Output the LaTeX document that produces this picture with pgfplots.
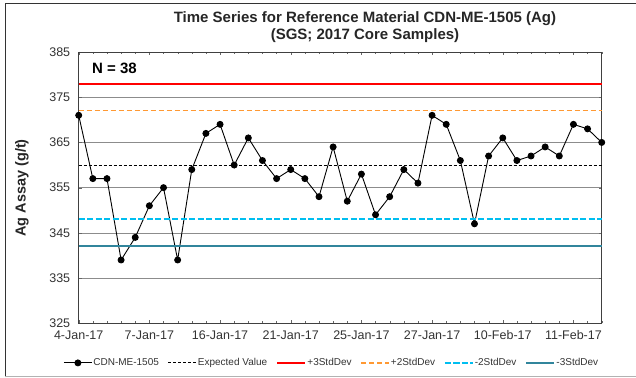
\documentclass[border=0pt]{standalone}
\usepackage{fontspec}
\setmainfont{Liberation Sans}
\usepackage{pgfplots}
\pgfplotsset{compat=1.18}

\definecolor{sdred}{HTML}{FF0000}
\definecolor{sdorange}{HTML}{FF9933}
\definecolor{sdcyan}{RGB}{0,190,240}
\definecolor{sdteal}{HTML}{31859C}
\definecolor{gridgray}{HTML}{8C8C8C}
\definecolor{textgray}{HTML}{333333}

% Ag assay values, CDN-ME-1505, in order of analysis
\pgfplotstableread{
idx value
0 371
1 357
2 357
3 339
4 344
5 351
6 355
7 339
8 359
9 367
10 369
11 360
12 366
13 361
14 357
15 359
16 357
17 353
18 364
19 352
20 358
21 349
22 353
23 359
24 356
25 371
26 369
27 361
28 347
29 362
30 366
31 361
32 362
33 364
34 362
35 369
36 368
37 365
}\agdata

\begin{document}
\begin{tikzpicture}[x=1pt,y=1pt]
\useasboundingbox (0,0) rectangle (636,377);
% chart frame
\draw[line width=1pt, black!80] (5,0) -- (5,373) -- (636,373);
\draw[line width=0.8pt, black!30] (5,1) -- (636,1);

\begin{axis}[
  at={(78.7pt,53.7pt)}, anchor=south west,
  scale only axis, width=523pt, height=271.3pt,
  xmin=0, xmax=37, ymin=325, ymax=385,
  axis line style={line width=0.9pt, black!75},
  ytick={325,335,...,385},
  ymajorgrids, grid style={line width=0.7pt, gridgray},
  xtick={0,5,...,35},
  xticklabels={4-Jan-17,7-Jan-17,16-Jan-17,21-Jan-17,25-Jan-17,27-Jan-17,10-Feb-17,11-Feb-17},
  minor xtick={0,1,...,37},
  xtick style={black!60}, ytick style={black!60},
  major tick length=3pt, minor tick length=2pt,
  y tick label style={/pgf/number format/assume math mode=true, xshift=-5pt},
  x tick label style={yshift=-4pt},
  tick label style={font=\fontsize{12.5}{14}\selectfont, text=textgray},
  legend columns=6,
  legend style={at={(0.483,-0.146)}, anchor=center, draw=none, fill=none,
    font=\fontsize{10}{12}\selectfont, text=textgray,
    nodes={inner sep=1pt},
    /tikz/every even column/.append style={column sep=8pt}},
  legend image code/.code={\draw[mark repeat=2,mark phase=2,#1] plot coordinates {(0pt,0pt) (14pt,0pt) (28pt,0pt)};},
  clip=false,
]
\addplot[black, line width=0.9pt, mark=*, mark size=3pt] table[x=idx, y=value] {\agdata};
\addlegendentry{CDN-ME-1505}
\addplot[black, line width=1pt, dash pattern=on 3pt off 2pt] coordinates {(0,360) (37,360)};
\addlegendentry{Expected Value}
\addplot[sdred, line width=2.2pt] coordinates {(0,378) (37,378)};
\addlegendentry{+3StdDev}
\addplot[sdorange, line width=1.3pt, dash pattern=on 5pt off 3pt] coordinates {(0,372) (37,372)};
\addlegendentry{+2StdDev}
\addplot[draw=sdcyan, line width=1.7pt, dash pattern=on 6pt off 2.5pt] coordinates {(0,348) (37,348)};
\addlegendentry{-2StdDev}
\addplot[sdteal, line width=2pt] coordinates {(0,342) (37,342)};
\addlegendentry{-3StdDev}
\end{axis}

\node[font=\bfseries\fontsize{15}{16.5}\selectfont, text=black!85, align=center] at (365,350)
  {Time Series for Reference Material CDN-ME-1505 (Ag)\\(SGS; 2017 Core Samples)};
\node[font=\bfseries\fontsize{14.5}{16}\selectfont, rotate=90, text=black!85] at (22,189) {Ag Assay (g/t)};
\node[font=\bfseries\fontsize{15}{17}\selectfont, anchor=west, inner sep=0pt] at (92,309) {N = 38};
\end{tikzpicture}
\end{document}
